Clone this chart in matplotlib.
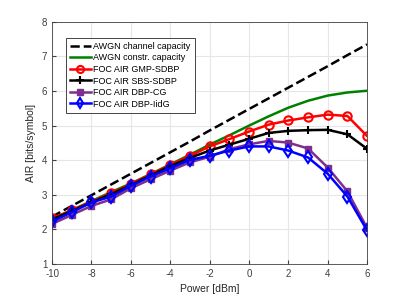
import matplotlib.pyplot as plt

plt.rcParams['font.family'] = ['Liberation Sans', 'DejaVu Sans']
plt.rcParams['axes.unicode_minus'] = False

power = [-10, -9, -8, -7, -6, -5, -4, -3, -2, -1, 0, 1, 2, 3, 4, 5, 6]

awgn_cap = [2.37, 2.68, 2.99, 3.30, 3.61, 3.92, 4.23, 4.54, 4.86, 5.17, 5.48,
            5.79, 6.10, 6.41, 6.72, 7.04, 7.35]
awgn_constr = [2.30, 2.56, 2.82, 3.08, 3.33, 3.60, 3.88, 4.16, 4.45, 4.72, 5.00,
               5.27, 5.52, 5.72, 5.87, 5.96, 6.01]
gmp_sdbp = [2.32, 2.55, 2.80, 3.05, 3.31, 3.59, 3.86, 4.13, 4.40, 4.61, 4.83,
            5.03, 5.15, 5.24, 5.32, 5.28, 4.70]
sbs_sdbp = [2.29, 2.53, 2.78, 3.02, 3.28, 3.56, 3.83, 4.07, 4.28, 4.45, 4.62,
            4.79, 4.85, 4.87, 4.88, 4.75, 4.33]
dbp_cg = [2.16, 2.42, 2.68, 2.87, 3.19, 3.45, 3.70, 3.94, 4.10, 4.32, 4.46,
          4.56, 4.51, 4.34, 3.79, 3.10, 2.04]
dbp_idg = [2.23, 2.50, 2.78, 2.95, 3.26, 3.53, 3.77, 4.01, 4.13, 4.28, 4.40,
           4.40, 4.28, 4.08, 3.61, 2.95, 1.97]

fig = plt.figure(figsize=(4.07, 2.96), dpi=100)
ax = fig.add_axes([0.128, 0.108, 0.774, 0.818])

ax.plot(power, awgn_cap, 'k--', lw=1.8, label='AWGN channel capacity')
ax.plot(power, awgn_constr, color='#008000', lw=1.8, label='AWGN constr. capacity')
ax.plot(power, gmp_sdbp, color='red', lw=1.8, marker='o', ms=6, mfc='none',
        mew=1.5, label='FOC AIR GMP-SDBP')
ax.plot(power, sbs_sdbp, color='black', lw=1.8, marker='+', ms=6, mew=1.5,
        label='FOC AIR SBS-SDBP')
ax.plot(power, dbp_cg, color='#7E2F8E', lw=1.8, marker='s', ms=5,
        label='FOC AIR DBP-CG')
ax.plot(power, dbp_idg, color='blue', lw=1.8, marker='d', ms=6, mfc='none',
        mew=1.5, label='FOC AIR DBP-IidG')

ax.set_xlim(-10, 6)
ax.set_ylim(1, 8)
ax.set_xticks(range(-10, 7, 2))
ax.set_yticks(range(1, 9))
ax.grid(True, color='#e6e6e6', lw=0.8)
ax.set_axisbelow(True)
ax.tick_params(direction='in', labelsize=7, colors='#404040', length=3)
for s in ax.spines.values():
    s.set_color('#404040')
    s.set_linewidth(0.6)
ax.set_xlabel('Power [dBm]', fontsize=7.5, color='#262626')
ax.set_ylabel('AIR [bits/symbol]', fontsize=7.5, color='#262626')

leg = ax.legend(loc='upper left', bbox_to_anchor=(0.044, 0.934), borderaxespad=0,
                fontsize=6.5, fancybox=False, framealpha=1, edgecolor='#262626',
                handlelength=2.3, handletextpad=0.3, borderpad=0.45,
                labelspacing=0.28, markerscale=0.85)
leg.get_frame().set_linewidth(0.6)

fig.savefig('out.png', dpi=100)
